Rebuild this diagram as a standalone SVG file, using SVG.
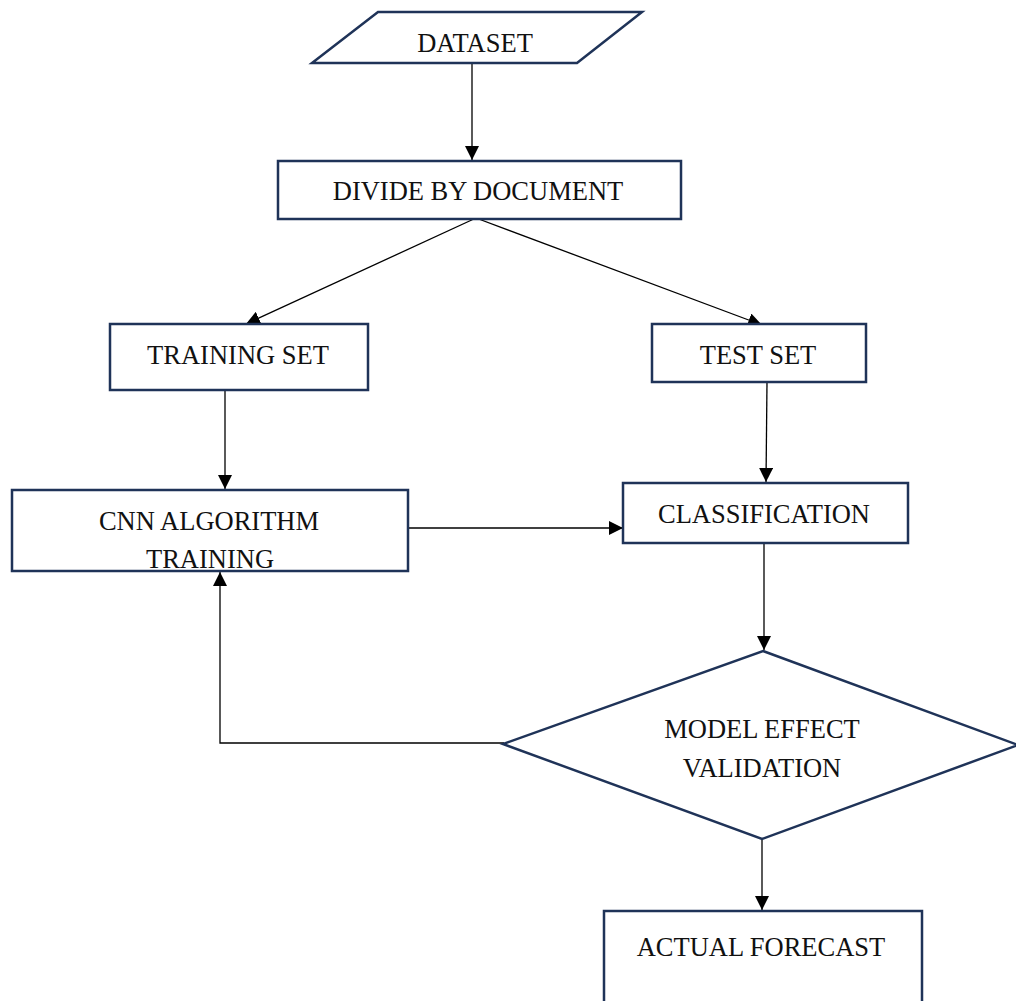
<svg xmlns="http://www.w3.org/2000/svg" width="1016" height="1001" viewBox="0 0 1016 1001">
<style>
.node{fill:#fff;stroke:#1f3358;stroke-width:2.5}
.lbl{font-family:"Liberation Serif","Times New Roman",serif;font-size:26.5px;fill:#111;text-anchor:middle}
.con{fill:none;stroke:#000;stroke-width:1.3}
</style>
<defs>
<marker id="arr" viewBox="0 0 10 10" refX="10" refY="5" markerWidth="14" markerHeight="14" markerUnits="userSpaceOnUse" orient="auto">
<path d="M0,0 L10,5 L0,10 z" fill="#000"/>
</marker>
</defs>
<rect width="1016" height="1001" fill="#fff"/>
<g id="connectors">
<line class="con" x1="472" y1="63" x2="472" y2="160" marker-end="url(#arr)"/>
<line class="con" x1="476" y1="218" x2="246" y2="324" marker-end="url(#arr)"/>
<line class="con" x1="476" y1="218" x2="762" y2="325" marker-end="url(#arr)"/>
<line class="con" x1="225" y1="390" x2="225" y2="489" marker-end="url(#arr)"/>
<line class="con" x1="767" y1="382" x2="766" y2="482" marker-end="url(#arr)"/>
<line class="con" x1="408" y1="528" x2="623" y2="528" marker-end="url(#arr)"/>
<line class="con" x1="764" y1="543" x2="764" y2="650" marker-end="url(#arr)"/>
<polyline class="con" points="504,743 220,743 220,572" marker-end="url(#arr)"/>
<line class="con" x1="762" y1="839" x2="762" y2="910" marker-end="url(#arr)"/>
</g>
<g id="dataset">
<polygon class="node" points="378,12 642,12 577,63 312,63"/>
<text class="lbl" x="475" y="52">DATASET</text>
</g>
<g id="divide">
<rect class="node" x="278" y="161" width="403" height="58"/>
<text class="lbl" x="478" y="200">DIVIDE BY DOCUMENT</text>
</g>
<g id="training-set">
<rect class="node" x="110" y="324" width="258" height="66"/>
<text class="lbl" x="238" y="364">TRAINING SET</text>
</g>
<g id="test-set">
<rect class="node" x="652" y="324" width="214" height="58"/>
<text class="lbl" x="758" y="364">TEST SET</text>
</g>
<g id="cnn">
<rect class="node" x="12" y="490" width="396" height="81"/>
<text class="lbl" x="209" y="530">CNN ALGORITHM</text>
<text class="lbl" x="210" y="568">TRAINING</text>
</g>
<g id="classification">
<rect class="node" x="623" y="483" width="285" height="60"/>
<text class="lbl" x="764" y="523">CLASSIFICATION</text>
</g>
<g id="validation">
<polygon class="node" points="763,651 1018,745 762,839 503,744"/>
<text class="lbl" x="762" y="738">MODEL EFFECT</text>
<text class="lbl" x="762" y="777">VALIDATION</text>
</g>
<g id="forecast">
<rect class="node" x="604" y="911" width="318" height="100"/>
<text class="lbl" x="761" y="956">ACTUAL FORECAST</text>
</g>
</svg>
